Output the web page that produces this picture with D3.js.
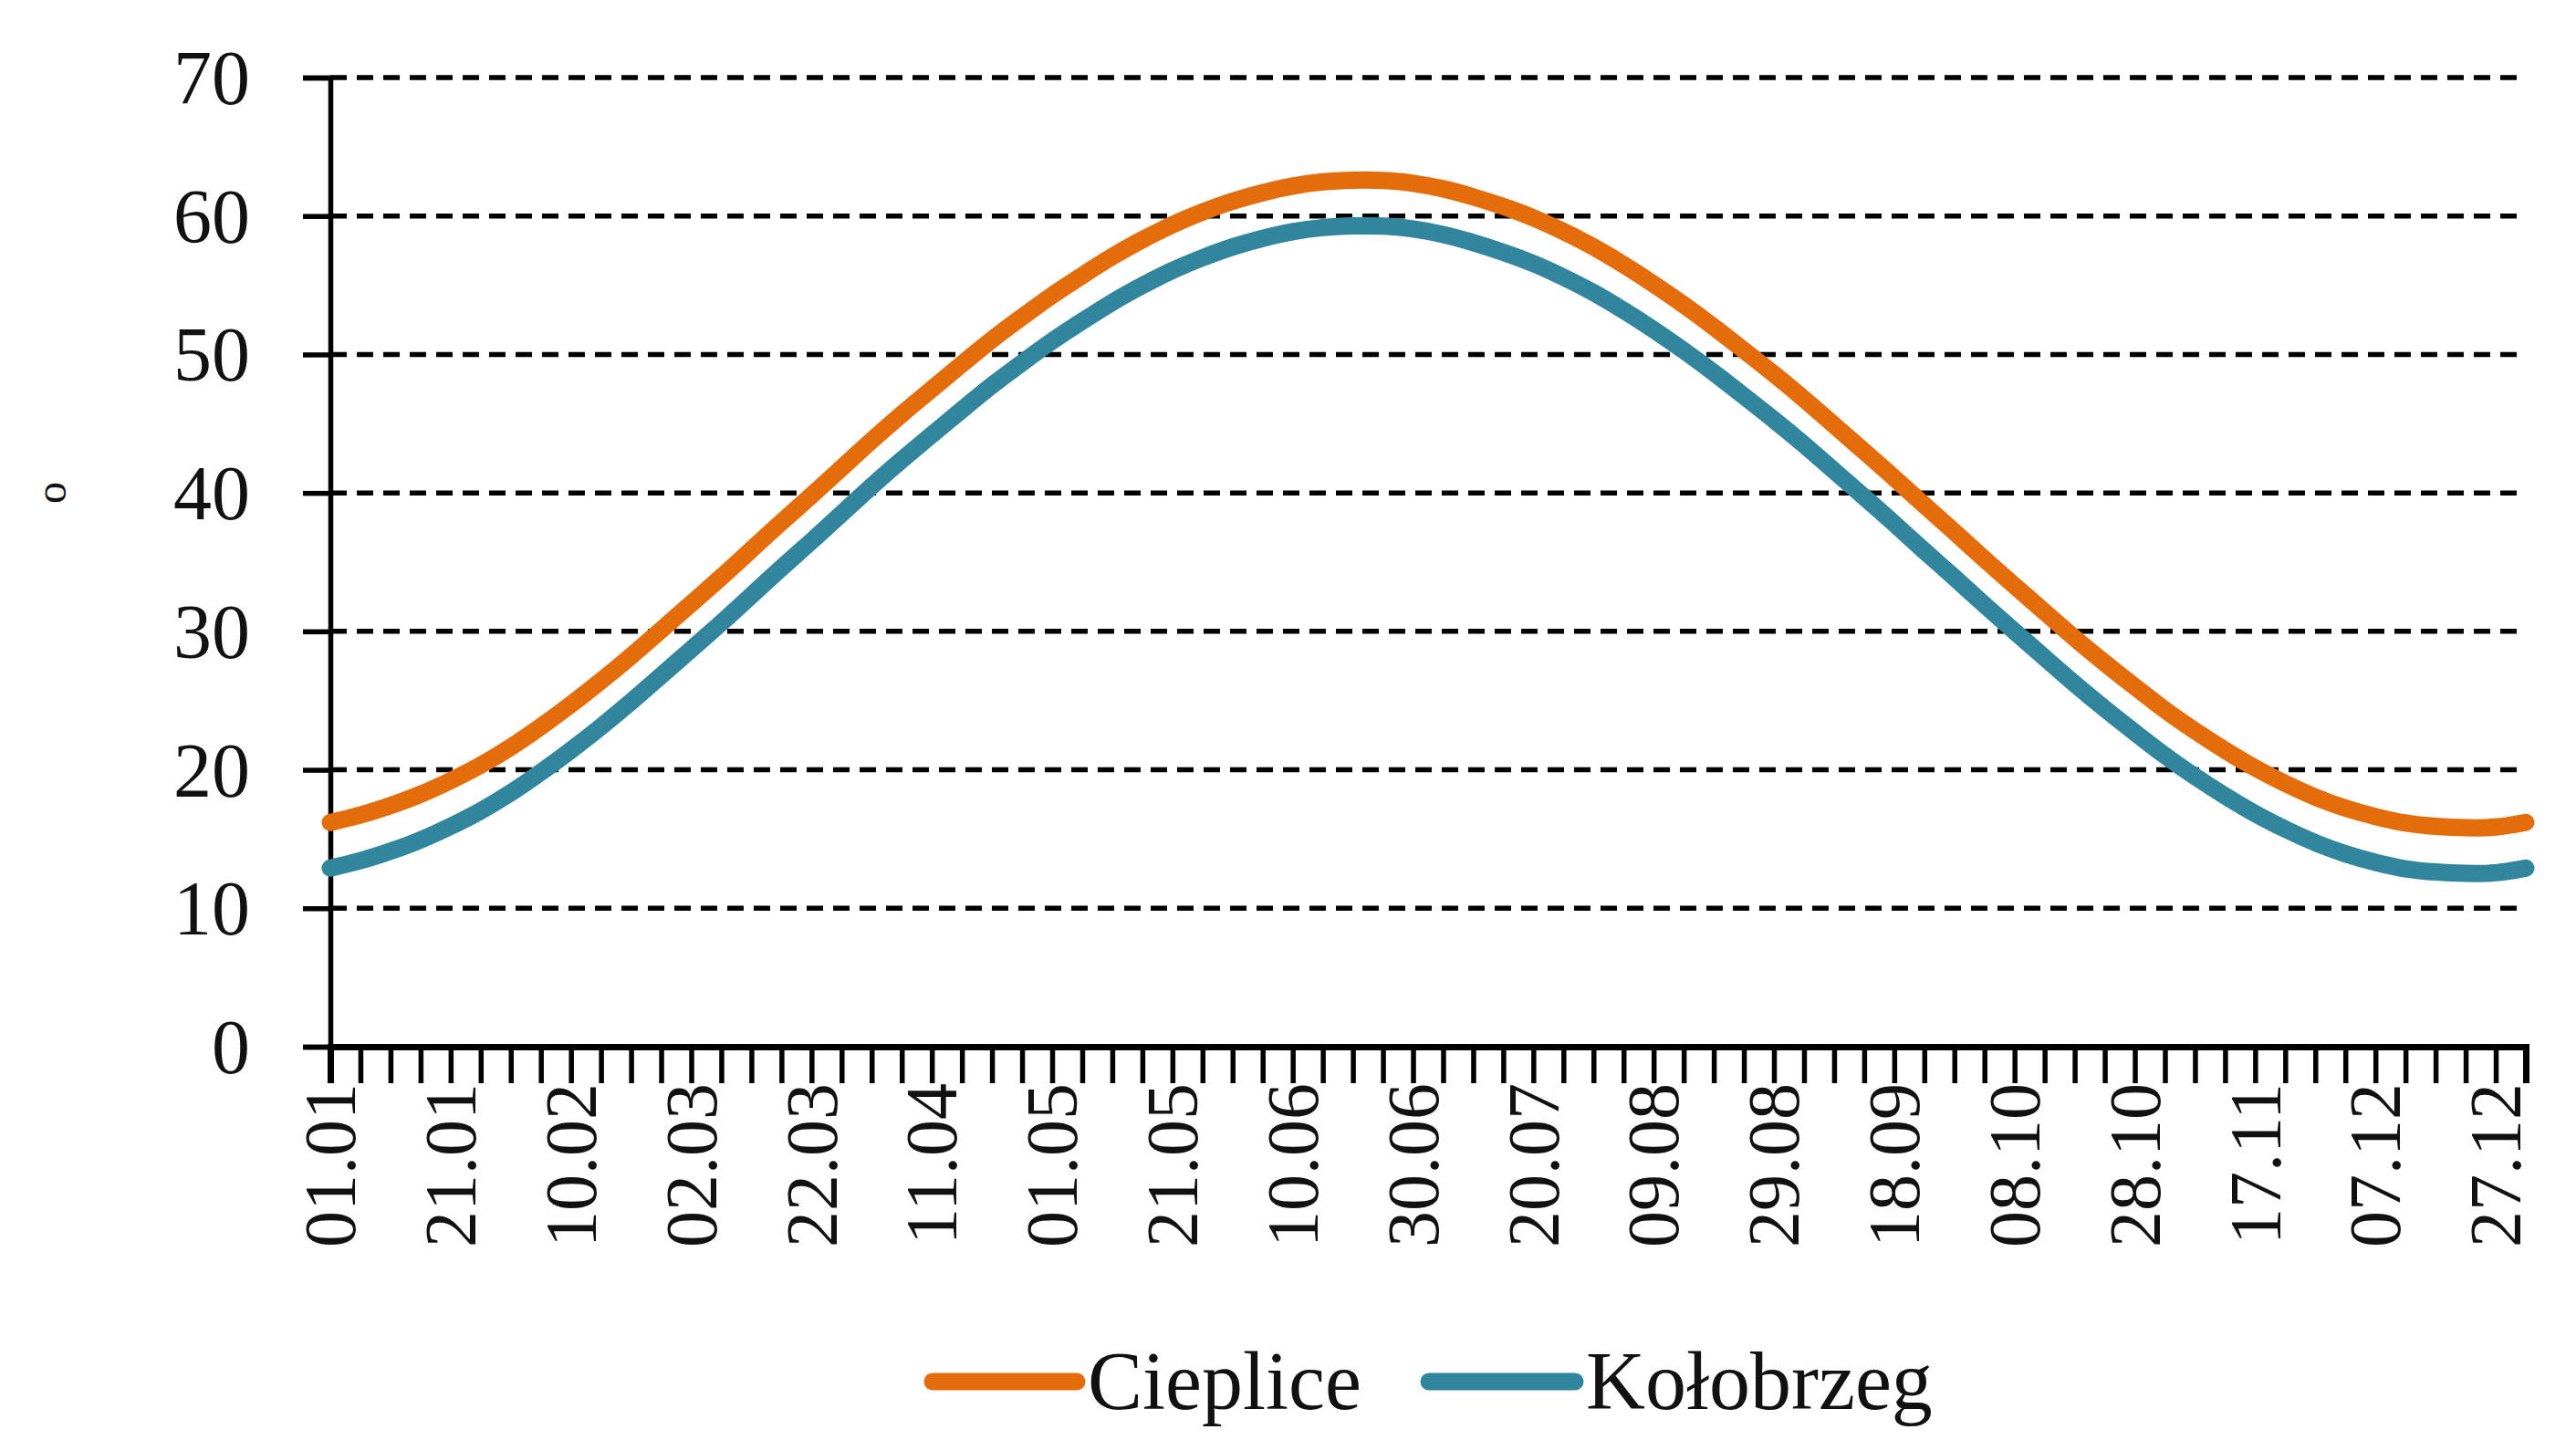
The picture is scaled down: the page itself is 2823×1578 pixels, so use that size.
<!DOCTYPE html>
<html>
<head>
<meta charset="utf-8">
<script src="https://cdn.jsdelivr.net/npm/d3@7"></script>
<style>
  html, body { margin: 0; padding: 0; background: #fff; }
  svg { display: block; }
  text { font-family: "Liberation Serif", "DejaVu Serif", serif; fill: #111; }
</style>
</head>
<body>
<div id="chart"></div>
<script>
// dzień roku (0 = 01.01), co 5 dni
const days = [0,5,10,15,20,25,30,35,40,45,50,55,60,65,70,75,80,85,90,95,100,105,110,115,120,125,130,135,140,145,150,155,160,165,170,175,180,185,190,195,200,205,210,215,220,225,230,235,240,245,250,255,260,265,270,275,280,285,290,295,300,305,310,315,320,325,330,335,340,345,350,355,360,365];

const cieplice = [16.2,16.7,17.4,18.2,19.2,20.3,21.6,
    23.1,24.7,26.4,28.2,30.1,
    32.0,33.9,35.9,37.9,39.8,41.8,
    43.8,45.7,47.5,49.3,51.1,52.7,
    54.3,55.7,57.1,58.3,59.4,60.3,61.1,
    61.7,62.2,62.5,62.6,62.6,62.4,
    62.0,61.4,60.7,59.9,58.9,57.8,
    56.5,55.1,53.6,52.0,50.3,48.6,
    46.8,44.9,43.0,41.1,39.1,37.2,
    35.2,33.3,31.4,29.5,27.7,26.0,
    24.3,22.8,21.4,20.1,19.0,18.0,
    17.2,16.6,16.1,15.9,15.8,15.8,
    16.2];

const kolobrzeg = [12.9,13.4,14.1,14.9,15.9,17.0,18.3,
    19.8,21.4,23.1,24.9,26.8,
    28.7,30.6,32.6,34.6,36.5,38.5,
    40.5,42.4,44.2,46.0,47.8,49.4,
    51.0,52.4,53.8,55.0,56.1,57.0,57.8,
    58.4,58.9,59.2,59.3,59.3,59.1,
    58.7,58.1,57.4,56.6,55.6,54.5,
    53.2,51.8,50.3,48.7,47.0,45.3,
    43.5,41.6,39.7,37.8,35.8,33.9,
    31.9,30.0,28.1,26.2,24.4,22.7,
    21.0,19.5,18.1,16.8,15.7,14.7,
    13.9,13.3,12.8,12.6,12.5,12.5,
    12.9];

const tickDays = d3.range(0, 366, 5);
const labelDays = [0,20,40,60,80,100,120,140,160,180,200,220,240,260,280,300,320,340,360];
const labelTexts = ["01.01","21.01","10.02","02.03","22.03","11.04","01.05","21.05","10.06","30.06","20.07","09.08","29.08","18.09","08.10","28.10","17.11","07.12","27.12"];
const yTicks = [0,10,20,30,40,50,60,70];

const seriesNames = ["Cieplice", "Kołobrzeg"];
const seriesColors = ["#E46C0A", "#31859C"];

const W = 2823, H = 1578;
const mLeft = 362, mRight = 2768, mTop = 85, mBottom = 1147;

const svg = d3.select('#chart').append('svg')
    .attr('width', W)
    .attr('height', H);

const x = d3.scaleLinear().domain([0, 365]).range([mLeft, mRight]);
const y = d3.scaleLinear().domain([0, 70]).range([mBottom, mTop]);

// linie siatki (przerywane)
svg.append('g')
    .selectAll('line')
    .data(yTicks.filter(d => d > 0))
    .enter()
    .append('line')
    .attr('x1', mLeft)
    .attr('x2', mRight)
    .attr('y1', d => y(d))
    .attr('y2', d => y(d))
    .attr('stroke', '#000')
    .attr('stroke-width', 5.5)
    .attr('stroke-dasharray', '18,11');

// oś Y
const yAxis = svg.append('g')
    .attr('transform', `translate(${mLeft},0)`)
    .call(d3.axisLeft(y).tickValues(yTicks).tickSize(30).tickPadding(58).tickFormat(d3.format('d')));
yAxis.select('.domain').attr('stroke', '#000').attr('stroke-width', 5.5);
yAxis.selectAll('.tick line').attr('stroke', '#000').attr('stroke-width', 5.5);
yAxis.selectAll('.tick text')
    .attr('font-size', 84)
    .attr('font-family', '"Liberation Serif", serif')
    .attr('fill', '#111')
    .attr('dy', '0.34em');

// oś X - kreski co 5 dni
const xAxis = svg.append('g')
    .attr('transform', `translate(0,${mBottom})`)
    .call(d3.axisBottom(x).tickValues(tickDays).tickSize(40).tickFormat(''));
xAxis.select('.domain').attr('stroke', '#000').attr('stroke-width', 7);
xAxis.selectAll('.tick line').attr('stroke', '#000').attr('stroke-width', 5.5);

// podpisy osi X
svg.append('g')
    .selectAll('text')
    .data(labelDays)
    .enter()
    .append('text')
    .attr('transform', d => `translate(${x(d)},${mBottom + 40}) rotate(-90)`)
    .attr('text-anchor', 'end')
    .attr('dy', '0.34em')
    .attr('font-size', 80)
    .text((d, i) => labelTexts[i]);

// opis osi Y
svg.append('text')
    .attr('transform', `translate(56,540) rotate(-90)`)
    .attr('text-anchor', 'middle')
    .attr('dy', '0.34em')
    .attr('font-size', 48)
    .text('o');

// serie (wygładzone)
const line = d3.line()
    .x((d, i) => x(days[i]))
    .y(d => y(d))
    .curve(d3.curveBasis);

[cieplice, kolobrzeg].forEach((vals, i) => {
    svg.append('path')
        .datum(vals)
        .attr('d', line)
        .attr('fill', 'none')
        .attr('stroke', seriesColors[i])
        .attr('stroke-width', 19)
        .attr('stroke-linecap', 'round')
        .attr('stroke-linejoin', 'round');
});

// legenda
const legendItems = [
    { name: seriesNames[0], color: seriesColors[0], x1: 1022, x2: 1180, tx: 1192 },
    { name: seriesNames[1], color: seriesColors[1], x1: 1566, x2: 1726, tx: 1738 }
];
const legendY = 1514;
const legend = svg.append('g');
legend.selectAll('line')
    .data(legendItems)
    .enter()
    .append('line')
    .attr('x1', d => d.x1)
    .attr('x2', d => d.x2)
    .attr('y1', legendY)
    .attr('y2', legendY)
    .attr('stroke', d => d.color)
    .attr('stroke-width', 19)
    .attr('stroke-linecap', 'round');
legend.selectAll('text')
    .data(legendItems)
    .enter()
    .append('text')
    .attr('x', d => d.tx)
    .attr('y', legendY + 30)
    .attr('font-size', 90)
    .text(d => d.name);
</script>
</body>
</html>
